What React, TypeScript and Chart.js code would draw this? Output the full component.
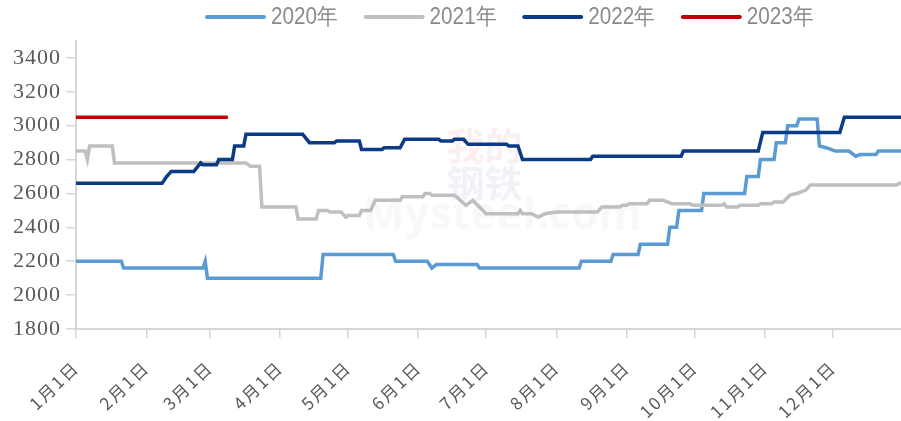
import React, { useEffect, useRef } from "react";
import { Chart, registerables } from "chart.js";

Chart.register(...registerables);

// Day-of-year (0 = Jan 1) tick positions and labels
const monthStarts = [0, 31, 59, 90, 120, 151, 181, 212, 243, 273, 304, 334];
const monthLabels = ["1月1日", "2月1日", "3月1日", "4月1日", "5月1日", "6月1日", "7月1日", "8月1日", "9月1日", "10月1日", "11月1日", "12月1日"];
const yTicks = [1800, 2000, 2200, 2400, 2600, 2800, 3000, 3200, 3400];

const seriesNames = ["2020年", "2021年", "2022年", "2023年"];
const seriesColors = ["#5B9BD5", "#BFBFBF", "#0B3A86", "#C00000"];

// [day of year, price]
const s2020: [number, number][] = [
  [0, 2200], [20, 2200], [21, 2160], [56, 2160], [57, 2200], [58, 2100], [108, 2100], [109, 2240],
  [140, 2240], [141, 2200], [155, 2200], [157, 2160], [159, 2180], [177, 2180], [178, 2160],
  [222, 2160], [223, 2200], [236, 2200], [237, 2240], [248, 2240], [249, 2300], [261, 2300],
  [262, 2400], [265, 2400], [266, 2500], [276, 2500], [277, 2600], [295, 2600], [296, 2700],
  [301, 2700], [302, 2800], [308, 2800], [309, 2900], [313, 2900], [314, 3000], [318, 3000],
  [319, 3040], [327, 3040], [328, 2880], [331, 2870], [335, 2850], [341, 2850], [344, 2820],
  [346, 2830], [353, 2830], [354, 2850], [364, 2850],
];
const s2021: [number, number][] = [
  [0, 2850], [4, 2850], [5, 2800], [6, 2880], [16, 2880], [17, 2780], [75, 2780], [77, 2760],
  [81, 2760], [82, 2520], [97, 2520], [98, 2450], [106, 2450], [107, 2500], [111, 2500],
  [112, 2490], [117, 2490], [119, 2460], [120, 2470], [125, 2470], [126, 2500], [130, 2500],
  [132, 2560], [143, 2560], [144, 2580], [153, 2580], [154, 2600], [156, 2600], [157, 2590],
  [167, 2590], [172, 2530], [175, 2560], [181, 2480], [195, 2480], [196, 2500], [197, 2480],
  [201, 2480], [204, 2460], [207, 2480], [212, 2490], [230, 2490], [232, 2520], [240, 2520],
  [241, 2530], [243, 2530], [244, 2540], [252, 2540], [253, 2560], [259, 2560], [263, 2540],
  [271, 2540], [272, 2530], [285, 2530], [286, 2540], [287, 2520], [292, 2520], [293, 2530],
  [301, 2530], [302, 2540], [307, 2540], [308, 2550], [312, 2550], [315, 2590], [318, 2600],
  [320, 2610], [322, 2620], [324, 2650], [362, 2650], [364, 2665],
];
const s2022: [number, number][] = [
  [0, 2660], [38, 2660], [40, 2700], [42, 2730], [52, 2730], [55, 2780], [56, 2770], [62, 2770],
  [63, 2800], [69, 2800], [70, 2880], [74, 2880], [75, 2950], [100, 2950], [103, 2900],
  [114, 2900], [115, 2910], [125, 2910], [126, 2860], [135, 2860], [136, 2870], [143, 2870],
  [145, 2920], [160, 2920], [161, 2910], [166, 2910], [167, 2920], [171, 2920], [173, 2890],
  [190, 2890], [191, 2880], [195, 2880], [197, 2800], [227, 2800], [228, 2820], [267, 2820],
  [268, 2850], [301, 2850], [303, 2960], [337, 2960], [339, 3050], [364, 3050],
];
const s2023: [number, number][] = [
  [0, 3050], [67, 3050],
];

const allSeries = [s2020, s2021, s2022, s2023];
const drawOrder = [3, 2, 1, 0];

const watermark = {
  id: "watermark",
  beforeDatasetsDraw(chart: any) {
    const { ctx, chartArea } = chart;
    const cx = (chartArea.left + chartArea.right) / 2 + 8;
    ctx.save();
    ctx.letterSpacing = "0px";
    ctx.textAlign = "center";
    ctx.textBaseline = "middle";
    ctx.font = "bold 38px 'Noto Sans CJK SC'";
    ctx.fillStyle = "rgba(200,60,50,0.08)";
    ctx.fillText("我的", cx - 12, 146);
    ctx.fillStyle = "rgba(40,70,160,0.07)";
    ctx.fillText("钢铁", cx - 12, 183);
    ctx.font = "bold 44px 'Open Sans'";
    ctx.fillStyle = "rgba(150,150,150,0.07)";
    ctx.fillText("Mysteel.com", cx + 6, 216);
    ctx.restore();
  },
};

// Letter spacing for axis labels: y labels drawn before datasets, x labels after
const labelSpacing = {
  id: "labelSpacing",
  beforeDraw(chart: any) {
    chart.ctx.letterSpacing = "1px";
  },
  afterDatasetsDraw(chart: any) {
    chart.ctx.letterSpacing = "2px";
  },
  afterDraw(chart: any) {
    chart.ctx.letterSpacing = "0px";
  },
};

// Legend drawn on the canvas, one entry per series
const customLegend = {
  id: "customLegend",
  afterDraw(chart: any) {
    const { ctx } = chart;
    const start = 207;
    const step = 158.6;
    const cy = 17;
    ctx.save();
    ctx.letterSpacing = "0px";
    chart.data.datasets.forEach((ds: any, i: number) => {
      const x = start + i * step;
      ctx.strokeStyle = ds.borderColor;
      ctx.lineWidth = 4;
      ctx.lineCap = "round";
      ctx.beginPath();
      ctx.moveTo(x, cy);
      ctx.lineTo(x + 57, cy);
      ctx.stroke();
      ctx.save();
      ctx.translate(x + 64, cy + 1);
      ctx.scale(0.9, 1);
      ctx.font = "23px 'Liberation Sans', Arial, sans-serif";
      ctx.fillStyle = "#8A8A8A";
      ctx.textAlign = "left";
      ctx.textBaseline = "middle";
      ctx.fillText(ds.label, 0, 0);
      ctx.restore();
    });
    ctx.restore();
  },
};

export default function App() {
  const ref = useRef<HTMLCanvasElement | null>(null);
  useEffect(() => {
    document.body.style.margin = "0";
    if (!ref.current) return;
    const chart = new Chart(ref.current, {
      type: "line",
      data: {
        datasets: allSeries.map((s, i) => ({
          label: seriesNames[i],
          data: s.map(([x, y]) => ({ x, y })),
          borderColor: seriesColors[i],
          backgroundColor: seriesColors[i],
          borderWidth: 3.5,
          pointRadius: 0,
          tension: 0,
          fill: false,
          order: drawOrder[i],
        })),
      },
      plugins: [labelSpacing, watermark, customLegend],
      options: {
        animation: false,
        responsive: false,
        maintainAspectRatio: false,
        layout: { padding: { top: 41, right: 0, left: 0, bottom: 0 } },
        plugins: {
          tooltip: { enabled: false },
          legend: { display: false },
        },
        scales: {
          x: {
            type: "linear",
            min: 0,
            max: 364,
            afterBuildTicks: (scale: any) => {
              scale.ticks = monthStarts.map((v) => ({ value: v }));
            },
            afterFit: (scale: any) => {
              scale.height = 92;
            },
            grid: { display: true, drawOnChartArea: false, drawTicks: true, tickLength: 9, color: "#D6D6D6", lineWidth: 1.5 },
            border: { display: true, color: "#D6D6D6", width: 2 },
            ticks: {
              z: 1,
              autoSkip: false,
              maxRotation: 44,
              minRotation: 44,
              color: "#595959",
              font: { family: "'Noto Sans CJK SC'", size: 17 },
              padding: 19,
              callback: (v: any) => {
                const i = monthStarts.indexOf(Number(v));
                return i >= 0 ? monthLabels[i] : "";
              },
            },
          },
          y: {
            type: "linear",
            min: 1800,
            max: 3500,
            afterBuildTicks: (scale: any) => {
              scale.ticks = yTicks.map((v) => ({ value: v }));
            },
            afterFit: (scale: any) => {
              scale.width = 76;
            },
            grid: { display: true, drawOnChartArea: false, drawTicks: true, tickLength: 10, color: "#D6D6D6", lineWidth: 1.5 },
            border: { display: true, color: "#D6D6D6", width: 2 },
            ticks: {
              color: "#595959",
              font: { family: "'Liberation Serif', 'Times New Roman', serif", size: 22 },
              padding: 5,
              callback: (v: any) => String(v),
            },
          },
        },
      },
    });
    return () => chart.destroy();
  }, []);
  return (
    <div style={{ width: 901, height: 421 }}>
      <canvas ref={ref} width={901} height={421} style={{ width: 901, height: 421, display: "block" }} />
    </div>
  );
}
